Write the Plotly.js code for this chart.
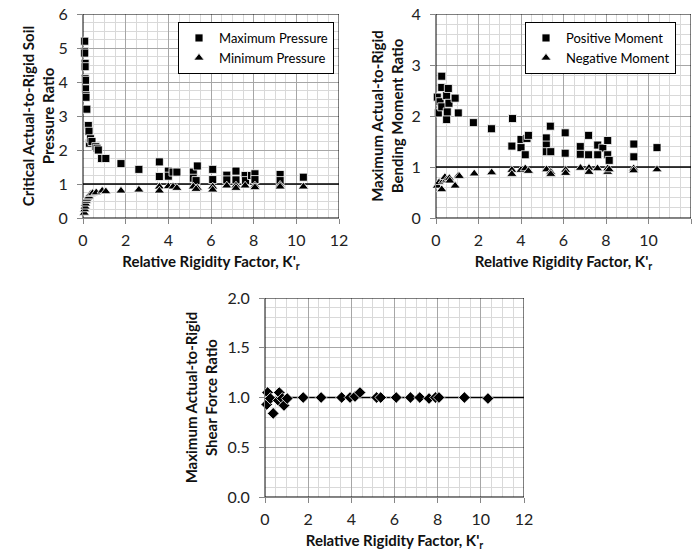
<!DOCTYPE html>
<html>
<head>
<meta charset="utf-8">
<script src="https://cdn.plot.ly/plotly-3.0.1.min.js"></script>
<style>html,body{margin:0;padding:0;background:#fff;}#chart{width:699px;height:553px;}</style>
</head>
<body>
<div id="chart"></div>
<script>
// ---- Soil pressure ratio (top-left) ----
const krMaxP = [0.08,0.08,0.08,0.1,0.1,0.1,0.12,0.12,0.14,0.14,0.18,0.25,0.28,0.3,0.35,0.42,0.6,0.66,0.72,0.87,1.07,1.78,2.62,3.58,3.58,4.0,4.0,4.22,4.4,5.17,5.17,5.36,5.3,6.08,6.08,6.74,6.74,7.17,7.17,7.6,7.62,7.9,8.06,8.06,9.24,9.24,10.33];
const maxPressure = [5.2,4.9,4.85,4.55,4.45,4.1,4.05,3.8,3.6,3.55,3.2,2.72,2.55,2.2,2.33,2.25,2.1,2.05,2.0,1.75,1.75,1.6,1.43,1.65,1.22,1.38,1.23,1.35,1.35,1.35,1.17,1.53,1.1,1.43,1.13,1.26,1.12,1.38,1.12,1.25,1.1,1.25,1.3,1.13,1.28,1.1,1.2];
const krMinP = [0.06,0.08,0.1,0.12,0.15,0.18,0.22,0.28,0.35,0.45,0.62,0.9,1.07,1.78,2.62,3.58,3.58,4.0,4.22,4.4,5.17,5.36,5.3,6.08,6.08,6.74,7.17,7.17,7.6,8.06,8.06,9.24,9.24,10.33];
const minPressure = [0.15,0.25,0.33,0.42,0.5,0.55,0.6,0.63,0.7,0.73,0.75,0.8,0.78,0.8,0.83,0.92,0.8,0.93,0.92,0.88,0.92,0.88,0.85,0.92,0.83,0.95,0.95,0.88,0.95,0.95,0.9,0.97,0.92,0.92];

// ---- Bending moment ratio (top-right) ----
const krPosM = [0.06,0.11,0.19,0.27,0.27,0.27,0.5,0.5,0.53,0.58,0.61,0.9,1.05,1.76,2.61,3.6,3.57,4.0,4.0,4.2,4.28,4.35,5.19,5.19,5.19,5.38,5.4,6.08,6.08,6.79,6.79,7.18,7.18,7.61,7.85,7.61,8.08,8.08,8.15,9.31,9.31,10.4];
const posMoment = [2.37,2.06,2.28,2.78,2.56,2.18,2.4,1.93,2.08,2.54,2.25,2.35,2.06,1.87,1.75,1.95,1.41,1.54,1.38,1.24,1.56,1.62,1.57,1.43,1.3,1.8,1.3,1.67,1.27,1.4,1.25,1.62,1.24,1.43,1.37,1.24,1.52,1.24,1.13,1.45,1.2,1.38];
const krNegM = [0.06,0.15,0.27,0.35,0.42,0.5,0.63,0.65,0.9,1.05,1.1,1.8,2.62,3.57,3.57,4.0,4.2,4.35,5.2,5.4,5.4,6.1,6.1,6.8,7.2,7.2,7.6,8.08,8.08,8.15,9.3,9.3,10.4];
const negMoment = [0.63,0.7,0.56,0.73,0.8,0.75,0.78,0.73,0.63,0.83,0.82,0.87,0.89,0.94,0.86,0.94,0.97,0.92,0.95,0.9,0.86,0.94,0.88,0.98,0.98,0.9,0.97,0.97,0.9,0.95,0.97,0.93,0.95];

// ---- Shear force ratio (bottom) ----
const krShear = [0.08,0.12,0.25,0.38,0.62,0.66,0.8,0.88,1.03,1.77,2.6,3.55,3.94,4.17,4.4,5.17,5.36,6.08,6.74,7.17,7.6,7.9,8.06,9.24,10.33];
const shearRatio = [0.93,1.05,0.99,0.84,0.97,1.05,0.99,0.92,0.99,1.0,1.0,1.0,1.0,1.01,1.05,1.0,1.0,1.0,1.0,1.0,0.99,1.0,1.0,1.0,0.99];

const xTickVals = [0,2,4,6,8,10,12];
const xRange = [0, 12];
const yRange1 = [0, 6], yRange2 = [0, 4], yRange3 = [0, 2];
const refValue = 1;
const xTitle = "<b>Relative Rigidity Factor, K'<sub>r</sub></b>";
const yTitle1 = "<b>Critical Actual-to-Rigid Soil<br>Pressure Ratio</b>";
const yTitle2 = "<b>Maximum Actual-to-Rigid<br>Bending Moment Ratio</b>";
const yTitle3 = "<b>Maximum Actual-to-Rigid<br>Shear Force Ratio</b>";

const FONT = 'Lato, "Open Sans", sans-serif';
const W = 699, H = 553;
const px = v => v / W, py = v => 1 - v / H;

function axisBase(extra) {
  return Object.assign({
    showgrid: true, gridcolor: '#a6a6a6', gridwidth: 1,
    showline: true, linecolor: '#868686', linewidth: 1,
    ticks: 'outside', ticklen: 5, tickcolor: '#868686',
    zeroline: false, fixedrange: true,
    tickfont: {family: FONT, size: 16, color: '#222'},
  }, extra);
}
function xAx(dom, anchor) {
  return axisBase({
    domain: dom, anchor: anchor, range: xRange, tickvals: xTickVals,
    ticklabelstandoff: 3,
    minor: {dtick: 0.5, tick0: 0, showgrid: true, gridcolor: '#d9d9d9', gridwidth: 1},
    title: {text: xTitle, font: {family: FONT, size: 15, color: '#111'}, standoff: 8}
  });
}
function yAx(dom, anchor, range, dtick, minor, title, standoff, fmt) {
  return axisBase({
    domain: dom, anchor: anchor, range: range, dtick: dtick, tick0: 0, tickformat: fmt || '',
    ticklabelstandoff: 6,
    minor: {dtick: minor, tick0: 0, showgrid: true, gridcolor: '#d9d9d9', gridwidth: 1},
    title: {text: title, font: {family: FONT, size: 15, color: '#111'}, standoff: standoff}
  });
}

const sq = {symbol: 'square', size: 8, color: '#000', line: {color: '#fff', width: 0.8}};
const tri = {symbol: 'triangle-up', size: 9, color: '#000', line: {color: '#fff', width: 0.8}};
const dia = {symbol: 'diamond', size: 9, color: '#000', line: {color: '#fff', width: 0.8}};

const traces = [
  {x: krMaxP, y: maxPressure, xaxis: 'x', yaxis: 'y', type: 'scatter', mode: 'markers', name: 'Maximum Pressure', marker: sq, legend: 'legend', cliponaxis: false},
  {x: krMinP, y: minPressure, xaxis: 'x', yaxis: 'y', type: 'scatter', mode: 'markers', name: 'Minimum Pressure', marker: tri, legend: 'legend', cliponaxis: false},
  {x: krPosM, y: posMoment, xaxis: 'x2', yaxis: 'y2', type: 'scatter', mode: 'markers', name: 'Positive Moment', marker: sq, legend: 'legend2', cliponaxis: false},
  {x: krNegM, y: negMoment, xaxis: 'x2', yaxis: 'y2', type: 'scatter', mode: 'markers', name: 'Negative Moment', marker: tri, legend: 'legend2', cliponaxis: false},
  {x: krShear, y: shearRatio, xaxis: 'x3', yaxis: 'y3', type: 'scatter', mode: 'markers', name: 'Shear', marker: dia, showlegend: false, cliponaxis: false}
];

const d1x = [px(83), px(339)], d2x = [px(436), px(691)], d3x = [px(265), px(524)];
const dTopY = [py(218), py(14)], dBotY = [py(497), py(298)];

function frame(xr, yr, yRange) {
  return {type: 'rect', xref: xr, yref: yr, x0: xRange[0], x1: xRange[1], y0: yRange[0], y1: yRange[1],
          line: {color: '#000', width: 1}, layer: 'between'};
}
function refLine(xr, yr) {
  return {type: 'line', xref: xr, yref: yr, x0: xRange[0], x1: xRange[1], y0: refValue, y1: refValue,
          line: {color: '#000', width: 1.5}, layer: 'between'};
}
const legendStyle = {
  bordercolor: '#000', borderwidth: 1, bgcolor: '#fff',
  font: {family: FONT, size: 13, color: '#000'}, tracegroupgap: 0, itemwidth: 30,
  xanchor: 'right', yanchor: 'top', xref: 'paper', yref: 'paper'
};

const layout = {
  width: W, height: H, margin: {l: 0, r: 0, t: 0, b: 0},
  paper_bgcolor: '#fff', plot_bgcolor: '#fff',
  font: {family: FONT, color: '#222'},
  xaxis: xAx(d1x, 'y'),
  yaxis: yAx(dTopY, 'x', yRange1, 1, 0.25, yTitle1, 0),
  xaxis2: xAx(d2x, 'y2'),
  yaxis2: yAx(dTopY, 'x2', yRange2, 1, 0.2, yTitle2, 4),
  xaxis3: xAx(d3x, 'y3'),
  yaxis3: yAx(dBotY, 'x3', yRange3, 0.5, 0.1, yTitle3, 6, '.1f'),
  legend: Object.assign({x: px(334), y: py(22)}, legendStyle),
  legend2: Object.assign({x: px(676), y: py(22)}, legendStyle),
  shapes: [frame('x', 'y', yRange1), frame('x2', 'y2', yRange2), frame('x3', 'y3', yRange3),
           refLine('x', 'y'), refLine('x2', 'y2'), refLine('x3', 'y3')]
};

Plotly.newPlot('chart', traces, layout, {displayModeBar: false, staticPlot: true});
</script>
</body>
</html>
